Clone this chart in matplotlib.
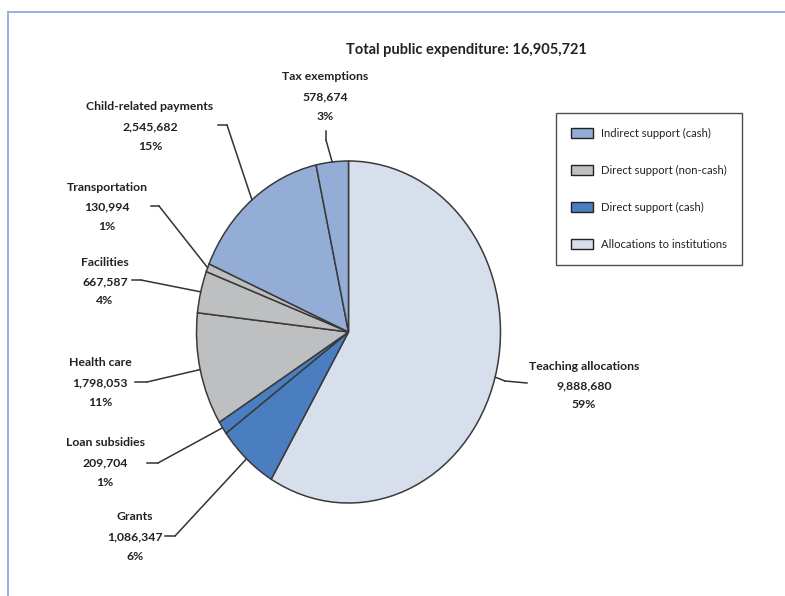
import matplotlib
matplotlib.use("Agg")
import matplotlib.pyplot as plt
import matplotlib.patches as mpatches
from matplotlib.lines import Line2D
import numpy as np

# ---------------- data ----------------
categories = ["Teaching allocations", "Grants", "Loan subsidies", "Health care",
              "Facilities", "Transportation", "Child-related payments", "Tax exemptions"]
values = [9888680, 1086347, 209704, 1798053, 667587, 130994, 2545682, 578674]
percent_labels = ["59%", "6%", "1%", "11%", "4%", "1%", "15%", "3%"]
groups = ["Allocations to institutions", "Direct support (cash)", "Direct support (cash)",
          "Direct support (non-cash)", "Direct support (non-cash)", "Direct support (non-cash)",
          "Indirect support (cash)", "Indirect support (cash)"]
legend_order = ["Indirect support (cash)", "Direct support (non-cash)",
                "Direct support (cash)", "Allocations to institutions"]
title_text = "Total public expenditure: 16,905,721"

group_colors = {
    "Indirect support (cash)": "#94ADD6",
    "Direct support (non-cash)": "#BDBFC1",
    "Direct support (cash)": "#4A7EC1",
    "Allocations to institutions": "#D8DFEC",
}

# label layout (image pixel coords): text center x, first line y, tail start x, tail end x, tail y
label_layout = {
    "Teaching allocations":   dict(tx=584, ty=366, t0=527, t1=505, ly=382, side="right"),
    "Grants":                 dict(tx=135, ty=517, t0=165, t1=175, ly=536, side="left"),
    "Loan subsidies":         dict(tx=105, ty=443, t0=147, t1=158, ly=463, side="left"),
    "Health care":            dict(tx=100, ty=363, t0=135, t1=147, ly=382, side="left"),
    "Facilities":             dict(tx=105, ty=262, t0=132, t1=141, ly=280, side="left"),
    "Transportation":         dict(tx=107, ty=187, t0=151, t1=159, ly=206, side="left"),
    "Child-related payments": dict(tx=150, ty=107, t0=218, t1=227, ly=125, side="left"),
    "Tax exemptions":         dict(tx=325, ty=77, t0=326, t1=326, ly=131, side="top"),
}

W, H = 785, 596
plt.rcParams['font.family'] = ['Lato', 'DejaVu Sans']
fig = plt.figure(figsize=(W / 100, H / 100), dpi=100)

# pie axes: center (348.5, 332), rx 152, ry 171 in image px
cx, cy, rx, ry = 348.5, 332, 152, 171
ax = fig.add_axes([(cx - rx) / W, (H - (cy + ry)) / H, 2 * rx / W, 2 * ry / H])
colors = [group_colors[g] for g in groups]
wedges, _ = ax.pie(values, colors=colors, startangle=90, counterclock=False,
                   wedgeprops=dict(edgecolor="#3a3a3a", linewidth=1.1))
ax.set_aspect('auto')
ax.set_xlim(-1, 1)
ax.set_ylim(-1, 1)
ax.axis('off')

fs = 8.8
for w, cat, val, pct in zip(wedges, categories, values, percent_labels):
    L = label_layout[cat]
    mid = np.deg2rad((w.theta1 + w.theta2) / 2)
    px, py = np.cos(mid), np.sin(mid)
    lines = [cat, f"{val:,}", pct]
    for i, s in enumerate(lines):
        fig.text(L["tx"] / W, 1 - (L["ty"] + i * 19.5) / H, s, ha="center", va="center",
                 fontsize=fs, fontweight="bold", color="#222222")
    if L["side"] == "top":
        ex, ey = 326, 140
        tail = [(L["t0"], L["ly"]), (ex, ey)]
    elif cat == "Teaching allocations":
        ex, ey = 505, 381
        tail = [(527, 383), (ex, ey)]
    else:
        ex, ey = L["t1"], L["ly"]
        tail = [(L["t0"], L["ly"]), (ex, ey)]
    xs = [p[0] / W for p in tail]
    ys = [1 - p[1] / H for p in tail]
    fig.add_artist(Line2D(xs, ys, color="#333333", lw=1.1, transform=fig.transFigure))
    ax.annotate("", xy=(px, py), xycoords="data",
                xytext=(ex, H - ey), textcoords="figure pixels",
                arrowprops=dict(arrowstyle="-", color="#333333", lw=1.1,
                                shrinkA=0, shrinkB=0))

# title
fig.text(466 / W, 1 - 50 / H, title_text, ha="center", va="center",
         fontsize=10.5, fontweight="bold", color="#222222")

# legend
handles = [mpatches.Patch(facecolor=group_colors[g], edgecolor="#222222", linewidth=1.0)
           for g in legend_order]
leg = fig.legend(handles, legend_order, loc="upper left",
                 bbox_to_anchor=(556 / W, 1 - 113 / H), bbox_transform=fig.transFigure,
                 fontsize=8.1, frameon=True, fancybox=False, edgecolor="#222222",
                 handlelength=1.95, handleheight=1.08, labelspacing=2.3,
                 borderpad=1.3, handletextpad=0.75, borderaxespad=0)
leg.get_frame().set_linewidth(1.0)
for t in leg.get_texts():
    t.set_color("#222222")

# outer frame (light blue, top and left)
fig.add_artist(Line2D([8 / W, 1], [1 - 12 / H, 1 - 12 / H], color="#8FAADC", lw=1.3,
                      transform=fig.transFigure))
fig.add_artist(Line2D([8 / W, 8 / W], [0, 1 - 12 / H], color="#8FAADC", lw=1.3,
                      transform=fig.transFigure))

fig.savefig("out.png", dpi=100)
